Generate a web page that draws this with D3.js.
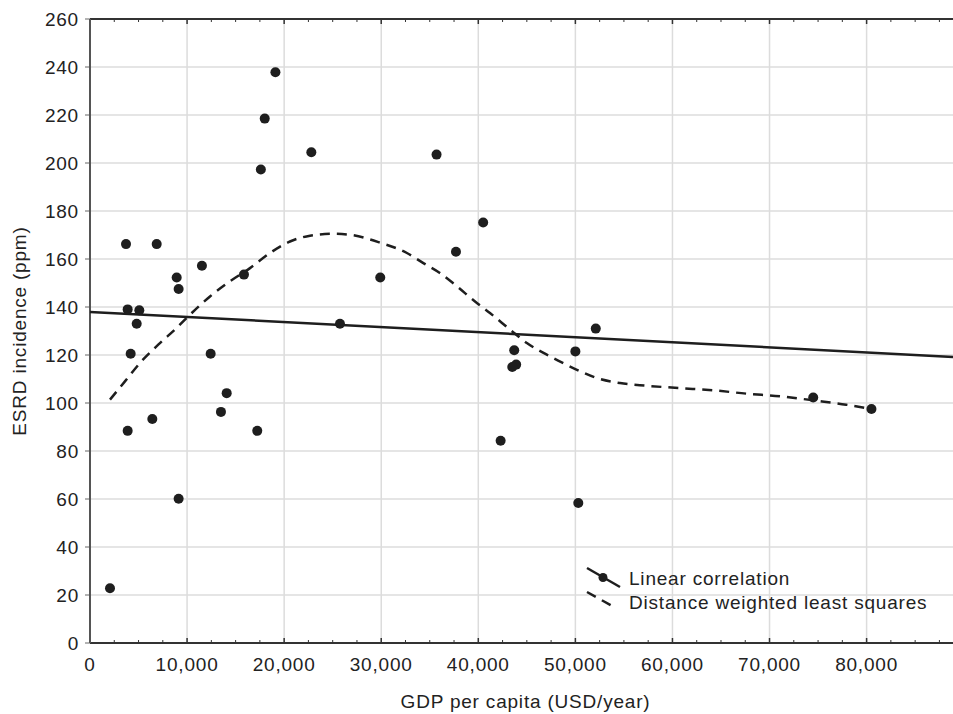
<!DOCTYPE html>
<html lang="en">
<head>
  <meta charset="UTF-8" />
  <title>ESRD incidence vs GDP per capita</title>
  <script src="https://cdn.jsdelivr.net/npm/d3@7"></script>
  <style>
    body, html { margin:0; padding:0; background:#fff; }
    svg { display:block; font-family: "Liberation Sans", Arial, sans-serif; }
    .tick-label, .title, .legend text { font-size: 19px; letter-spacing: 0.8px; fill: #222; }
    .grid line { stroke: #dcdcdc; stroke-width: 1.5; }
  </style>
</head>
<body>
  <svg id="chart" width="953" height="714"></svg>

  <script>
    // GDP per capita (USD/year) and ESRD incidence (ppm), one entry per country
    const gdp = [2060, 3880, 3710, 3880, 4190, 4810, 5080, 6420, 6870, 8930,
                 9130, 9130, 11530, 12430, 13490, 14080, 15860, 17230, 17600, 18000,
                 19100, 22800, 25750, 29900, 35700, 37700, 40500, 42300, 43700, 43900,
                 43500, 50000, 52100, 50300, 74500, 80500];
    const esrd = [22.8, 88.4, 166.2, 139, 120.5, 133, 138.6, 93.3, 166.2, 152.3,
                  147.5, 60.1, 157.2, 120.5, 96.3, 104.1, 153.5, 88.4, 197.3, 218.5,
                  237.8, 204.5, 133, 152.3, 203.5, 163, 175.2, 84.3, 122, 116,
                  115, 121.5, 131, 58.3, 102.3, 97.5];

    // distance weighted least squares curve
    const dwlsX = [2060, 3600, 5150, 7030, 8930, 10300, 12360, 14420, 16480, 18540,
                   20600, 22660, 25060, 26780, 29900, 32600, 34300, 36000, 37600, 39600,
                   41200, 43300, 45000, 47400, 48700, 50500, 52200, 54600, 57300, 60800,
                   64200, 67600, 71100, 74500, 77900, 80500];
    const dwlsY = [101.4, 109, 116.7, 124.3, 131.3, 136.8, 144.4, 150.7, 156.2, 162.5,
                   167.3, 169.7, 170.5, 170.1, 166.8, 162.6, 158.4, 154.3, 149.3, 142.5,
                   137.5, 130.5, 125, 119.4, 116.7, 113.2, 110.4, 108.3, 107.2, 106.2,
                   105.3, 103.9, 102.8, 101.1, 99.3, 97.5];

    const xTicks = [0, 10000, 20000, 30000, 40000, 50000, 60000, 70000, 80000];
    const yTicks = [0, 20, 40, 60, 80, 100, 120, 140, 160, 180, 200, 220, 240, 260];
    const legendLabels = ['Linear correlation', 'Distance weighted least squares'];

    const mLeft = 90, mTop = 19, mRight = 953, mBottom = 643;
    const xMax = 88900;
    const x = d3.scaleLinear().domain([0, xMax]).range([mLeft, mRight]);
    const y = d3.scaleLinear().domain([0, 260]).range([mBottom, mTop]);

    const svg = d3.select('#chart');
    const ink = '#1e1e1e';

    // grid
    const grid = svg.append('g').attr('class', 'grid');
    grid.selectAll('.gx').data(xTicks.slice(1)).join('line')
      .attr('x1', d => x(d)).attr('x2', d => x(d))
      .attr('y1', mTop).attr('y2', mBottom);
    grid.selectAll('.gy').data(yTicks.slice(1)).join('line')
      .attr('x1', mLeft).attr('x2', mRight)
      .attr('y1', d => y(d)).attr('y2', d => y(d));

    // ticks every 2,500 on top and bottom, pointing inward
    const minor = d3.range(0, xMax + 1, 2500);
    const axisG = svg.append('g');
    [mBottom, mTop].forEach(yy => {
      const dir = yy === mBottom ? -1 : 1;
      axisG.append('g').selectAll('line').data(minor).join('line')
        .attr('x1', d => x(d)).attr('x2', d => x(d))
        .attr('y1', yy).attr('y2', d => yy + dir * (d % 10000 === 0 ? 5 : 3))
        .attr('stroke', '#333').attr('stroke-width', d => d % 10000 === 0 ? 1.5 : 1);
      axisG.append('line')
        .attr('x1', mLeft).attr('x2', mRight).attr('y1', yy).attr('y2', yy)
        .attr('stroke', '#333').attr('stroke-width', 2);
    });
    // left axis
    axisG.append('g').selectAll('line').data(yTicks).join('line')
      .attr('x1', mLeft - 5).attr('x2', mLeft)
      .attr('y1', d => y(d)).attr('y2', d => y(d))
      .attr('stroke', '#666').attr('stroke-width', 1);
    axisG.append('line')
      .attr('x1', mLeft).attr('x2', mLeft).attr('y1', mTop).attr('y2', mBottom)
      .attr('stroke', '#555').attr('stroke-width', 2);

    // tick labels
    const fmt = d3.format(',');
    svg.append('g').selectAll('text').data(xTicks).join('text')
      .attr('class', 'tick-label')
      .attr('x', d => x(d)).attr('y', 671)
      .attr('text-anchor', 'middle')
      .text(d => fmt(d));
    svg.append('g').selectAll('text').data(yTicks).join('text')
      .attr('class', 'tick-label')
      .attr('x', 79).attr('y', d => y(d))
      .attr('dy', '0.35em')
      .attr('text-anchor', 'end')
      .text(d => d);

    // axis titles
    svg.append('text').attr('class', 'title')
      .attr('x', (mLeft + mRight) / 2 + 4).attr('y', 708)
      .attr('text-anchor', 'middle')
      .text('GDP per capita (USD/year)');
    svg.append('text').attr('class', 'title')
      .attr('transform', `translate(26,${(mTop + mBottom) / 2}) rotate(-90)`)
      .attr('text-anchor', 'middle')
      .text('ESRD incidence (ppm)');

    // linear regression from the data
    const mx = d3.mean(gdp), my = d3.mean(esrd);
    const slope = d3.sum(gdp, (g, i) => (g - mx) * (esrd[i] - my)) /
                  d3.sum(gdp, g => (g - mx) * (g - mx));
    const icpt = my - slope * mx;
    const plot = svg.append('g');
    plot.append('line')
      .attr('x1', x(0)).attr('y1', y(icpt))
      .attr('x2', x(xMax)).attr('y2', y(icpt + slope * xMax))
      .attr('stroke', ink).attr('stroke-width', 2.5);

    // DWLS curve
    const curve = d3.line().x(d => x(d[0])).y(d => y(d[1])).curve(d3.curveMonotoneX);
    plot.append('path')
      .attr('d', curve(d3.zip(dwlsX, dwlsY)))
      .attr('fill', 'none').attr('stroke', ink).attr('stroke-width', 2.5)
      .attr('stroke-dasharray', '10,7');

    // points
    plot.selectAll('circle').data(d3.zip(gdp, esrd)).join('circle')
      .attr('cx', d => x(d[0])).attr('cy', d => y(d[1]))
      .attr('r', 5).attr('fill', ink);

    // legend
    const lg = svg.append('g').attr('class', 'legend');
    lg.append('line').attr('x1', 587).attr('y1', 568).attr('x2', 620).attr('y2', 587)
      .attr('stroke', ink).attr('stroke-width', 2.5);
    lg.append('circle').attr('cx', 603).attr('cy', 577.5).attr('r', 4.5).attr('fill', ink);
    lg.append('line').attr('x1', 587).attr('y1', 592).attr('x2', 614).attr('y2', 607)
      .attr('stroke', ink).attr('stroke-width', 2.5).attr('stroke-dasharray', '10,7');
    lg.selectAll('text').data(legendLabels).join('text')
      .attr('x', 629).attr('y', (d, i) => 585 + i * 24)
      .text(d => d);
  </script>
</body>
</html>
